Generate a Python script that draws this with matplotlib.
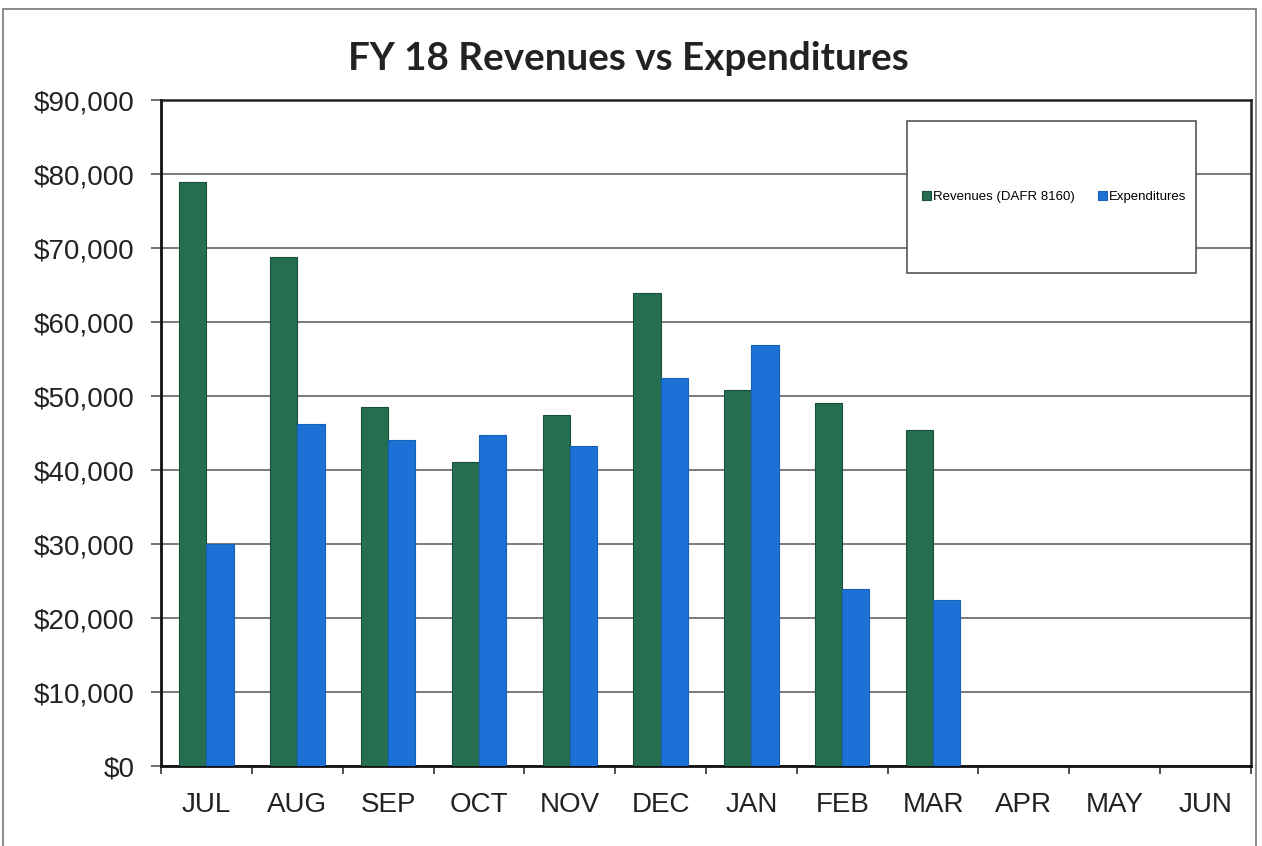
import numpy as np
import matplotlib
matplotlib.use("Agg")
from matplotlib import pyplot as plt
from matplotlib.patches import Rectangle
from matplotlib.ticker import FuncFormatter

months = ["JUL", "AUG", "SEP", "OCT", "NOV", "DEC",
          "JAN", "FEB", "MAR", "APR", "MAY", "JUN"]
revenues = [78900, 68800, 48500, 41100, 47400, 63900,
            50800, 49000, 45400, 0, 0, 0]
expenditures = [30000, 46200, 44000, 44700, 43200, 52400,
                56900, 23900, 22400, 0, 0, 0]

green = "#256f50"
blue = "#1b71d6"

plt.rcParams["font.family"] = ["Liberation Sans", "DejaVu Sans"]

fig = plt.figure(figsize=(12.62, 8.46), dpi=100)
ax = fig.add_axes([161 / 1262, 1 - 766 / 846, 1090 / 1262, 666 / 846])

x = np.arange(len(months))
w = 0.3
ax.bar(x - w / 2, revenues, w, color=green, edgecolor="#17503a",
       linewidth=0.8, label="Revenues (DAFR 8160)", zorder=3)
ax.bar(x + w / 2, expenditures, w, color=blue, edgecolor="#1660b8",
       linewidth=0.8, label="Expenditures", zorder=3)

ax.set_xlim(-0.5, len(months) - 0.5)
ax.set_ylim(0, 90000)
ax.set_yticks(np.arange(0, 90001, 10000))
ax.yaxis.set_major_formatter(FuncFormatter(lambda v, p: "${:,.0f}".format(v)))
ax.yaxis.grid(True, color="#7a7a7a", linewidth=1.4, zorder=0)

# month labels centred, tick marks between categories
ax.set_xticks(x)
ax.set_xticklabels(months)
ax.set_xticks(np.arange(-0.5, len(months)), minor=True)
ax.tick_params(axis="x", which="major", length=0, pad=19,
               labelsize=20, labelcolor="#222222")
ax.tick_params(axis="x", which="minor", length=6, width=1.2,
               color="#333333", direction="out")
ax.tick_params(axis="y", length=7, width=1.2, color="#555555",
               labelsize=20, labelcolor="#222222", pad=12)

for s in ["left", "bottom"]:
    ax.spines[s].set_linewidth(2)
    ax.spines[s].set_color("#111111")
for s in ["top", "right"]:
    ax.spines[s].set_linewidth(1.8)
    ax.spines[s].set_color("#222222")

fig.text(628 / 1262, 1 - 59 / 846, "FY 18 Revenues vs Expenditures",
         ha="center", va="center", fontsize=27.8, fontweight="bold",
         family=["Lato", "DejaVu Sans"], color="#222222")

# legend box
fig.patches.append(Rectangle((907 / 1262, 1 - 273 / 846), 289 / 1262,
                             152 / 846, transform=fig.transFigure,
                             facecolor="white", edgecolor="#555555",
                             linewidth=1.2, zorder=5))
fig.legend(loc="center", bbox_to_anchor=(1054 / 1262, 1 - 197 / 846),
           ncol=2, frameon=False, fontsize=9.5, handlelength=0.7,
           handleheight=0.7, handletextpad=0.1, columnspacing=1.8)

# outer chart border
fig.patches.append(Rectangle((3 / 1262, -0.05), 1253 / 1262, 1.05 - 9 / 846,
                             transform=fig.transFigure, facecolor="none",
                             edgecolor="#777777", linewidth=1.2))

fig.savefig("out.png", dpi=100)
